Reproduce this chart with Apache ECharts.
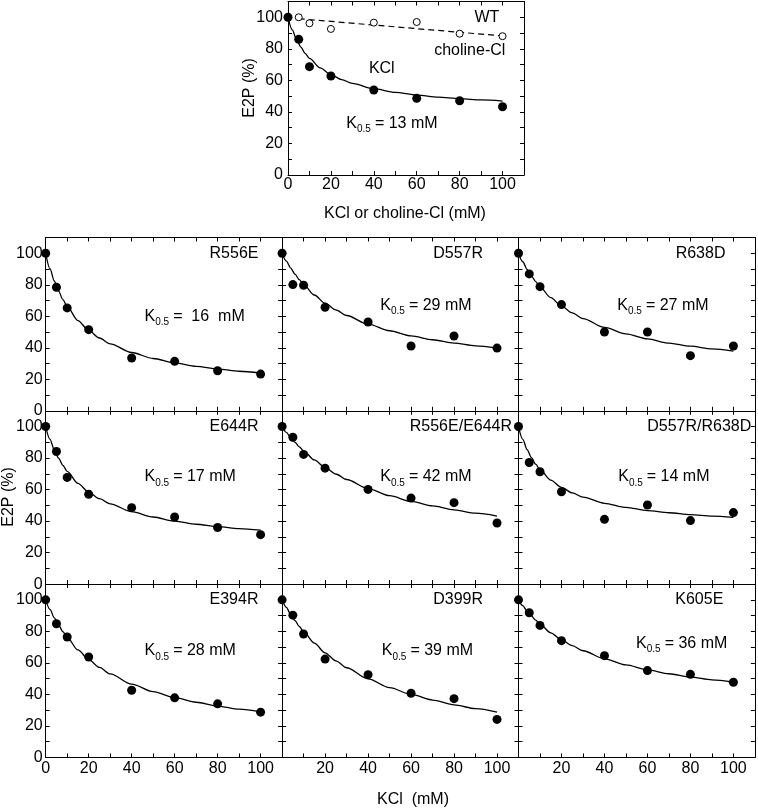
<!DOCTYPE html>
<html>
<head>
<meta charset="utf-8">
<script src="https://cdn.jsdelivr.net/npm/echarts@6/dist/echarts.min.js"></script>
<style>
html,body{margin:0;padding:0;background:#fff;}
#chart{width:758px;height:812px;}
</style>
</head>
<body>
<div id="chart"></div>
<script>
// ---------- data ----------
const concX = [0, 5, 10, 20, 40, 60, 80, 100];
const wtKCl = [100, 86.0, 68.7, 62.8, 53.9, 48.6, 47.1, 43.3];
const wtCholineX = [5, 10, 20, 40, 60, 80, 100];
const wtCholine = [100, 96.2, 92.6, 96.6, 97.0, 89.6, 88.0];
const wtCholineFitX = [5, 100];
const wtCholineFit = [99.1, 88.2];

const fitX = [0, 2, 4, 6, 8, 10, 15, 20, 25, 30, 40, 50, 60, 70, 80, 90, 100];
const fitWT = [100, 92.0, 85.9, 81.1, 77.1, 73.9, 67.9, 63.6, 60.5, 58.1, 54.7, 52.4, 50.7, 49.4, 48.4, 47.6, 46.9];

const panelNames = ['R556E', 'D557R', 'R638D', 'E644R', 'R556E/E644R', 'D557R/R638D', 'E394R', 'D399R', 'K605E'];
const panelK = ['16', '29', '27', '17', '42', '14', '28', '39', '36'];

const valR556E = [100, 78.4, 65.3, 51.5, 33.5, 31.4, 25.4, 23.3];
const valD557R = [100, 80.1, 79.7, 65.7, 56.4, 41.1, 47.5, 39.8];
const valR638D = [100, 86.9, 78.8, 67.4, 50.0, 50.0, 35.0, 41.1];
const valE644R = [100, 84.2, 67.7, 57.0, 48.5, 42.6, 35.9, 31.4];
const valR556E_E644R = [100, 93.2, 82.3, 73.6, 60.1, 54.6, 51.7, 38.8];
const valD557R_R638D = [100, 77.2, 71.3, 58.6, 41.1, 50.2, 40.3, 45.4];
const valE394R = [100, 84.8, 76.4, 63.7, 42.6, 37.8, 34.0, 28.7];
const valD399R = [100, 90.3, 78.3, 62.4, 52.5, 40.7, 37.3, 24.1];
const valK605E = [100, 91.8, 83.8, 74.1, 64.6, 55.1, 52.7, 47.7];

const fitR556E = [100, 90.2, 82.4, 75.9, 70.6, 66.1, 57.3, 51.0, 46.2, 42.5, 37.0, 33.2, 30.4, 28.2, 26.5, 25.1, 24.0];
const fitD557R = [100, 95.0, 90.6, 86.7, 83.2, 80.1, 73.5, 68.3, 64.0, 60.5, 55.0, 50.8, 47.6, 45.1, 43.0, 41.2, 39.8];
const fitR638D = [100, 94.6, 89.8, 85.6, 82.0, 78.7, 71.8, 66.4, 62.1, 58.5, 52.9, 48.8, 45.6, 43.0, 41.0, 39.3, 37.9];
const fitE644R = [100, 91.9, 85.3, 79.9, 75.4, 71.5, 63.9, 58.4, 54.2, 50.9, 46.0, 42.6, 40.0, 38.0, 36.5, 35.2, 34.2];
const fitR556E_E644R = [100, 96.3, 93.0, 89.9, 87.1, 84.5, 78.8, 74.0, 69.9, 66.4, 60.6, 56.1, 52.5, 49.6, 47.1, 45.0, 43.2];
const fitD557R_R638D = [100, 91.8, 85.4, 80.3, 76.1, 72.6, 66.0, 61.4, 57.9, 55.2, 51.3, 48.7, 46.7, 45.3, 44.1, 43.2, 42.4];
const fitE394R = [100, 93.9, 88.6, 84.0, 79.8, 76.1, 68.2, 62.1, 57.1, 53.0, 46.5, 41.7, 37.9, 35.0, 32.6, 30.6, 28.9];
const fitD399R = [100, 95.2, 90.8, 86.8, 83.1, 79.8, 72.5, 66.4, 61.3, 56.9, 49.8, 44.3, 40.0, 36.4, 33.4, 30.9, 28.7];
const fitK605E = [100, 96.3, 92.9, 89.8, 87.1, 84.6, 79.1, 74.6, 70.9, 67.7, 62.6, 58.7, 55.6, 53.1, 51.0, 49.2, 47.7];

const panelValues = [valR556E, valD557R, valR638D, valE644R, valR556E_E644R, valD557R_R638D, valE394R, valD399R, valK605E];
const panelFits = [fitR556E, fitD557R, fitR638D, fitE644R, fitR556E_E644R, fitD557R_R638D, fitE394R, fitD399R, fitK605E];

const tickLabels = [0, 20, 40, 60, 80, 100];

// ---------- layout ----------
const FONT = '"Liberation Sans", Arial, Helvetica, sans-serif';
const FS = 16;
const grids = [{ left: 288, top: 1.5, width: 236, height: 173.5 }];
for (let r = 0; r < 3; r++) {
  for (let c = 0; c < 3; c++) {
    grids.push({ left: 45.7 + c * 236.4, top: 237.5 + r * 173.3, width: 236.4, height: 173.3 });
  }
}

const pairs = (xs, ys) => xs.map((x, i) => [x, ys[i]]);

const xAxes = [], yAxes = [], series = [];
function labelFmt(showZero) {
  return v => (tickLabels.indexOf(v) >= 0 && (showZero || v !== 0)) ? String(v) : '';
}
grids.forEach((g, i) => {
  const panel = i - 1;
  const col = panel >= 0 ? panel % 3 : 0;
  const row = panel >= 0 ? Math.floor(panel / 3) : -1;
  const showX = i === 0 || row === 2;
  const showY = i === 0 || col === 0;
  const showXZero = i === 0 || col === 0;
  const common = {
    gridIndex: i, type: 'value', min: 0, max: 110, interval: 10,
    splitLine: { show: false },
    axisLine: { show: true, onZero: false, lineStyle: { color: '#000', width: 1 } },
    axisTick: { show: true, inside: true, length: 4, lineStyle: { color: '#000', width: 1 } },
  };
  xAxes.push(Object.assign({}, common, {
    position: 'bottom',
    axisLabel: { show: showX, formatter: labelFmt(showXZero), color: '#000', fontSize: FS, fontFamily: FONT, margin: i === 0 ? 2 : 3 }
  }));
  xAxes.push(Object.assign({}, common, { position: 'top', axisLabel: { show: false } }));
  yAxes.push(Object.assign({}, common, {
    position: 'left',
    axisLabel: { show: showY, formatter: labelFmt(true), color: '#000', fontSize: FS, fontFamily: FONT, margin: i === 0 ? 5 : 3 }
  }));
  yAxes.push(Object.assign({}, common, { position: 'right', axisLabel: { show: false } }));
});

const lineCommon = { type: 'line', showSymbol: false, symbol: 'none', smooth: 0.3, smoothMonotone: 'x', silent: true, animation: false, z: 3 };
const dotCommon = { type: 'scatter', symbol: 'circle', symbolSize: 9, itemStyle: { color: '#000', opacity: 1 }, animation: false, z: 5 };

// top WT chart
series.push(Object.assign({}, lineCommon, { xAxisIndex: 0, yAxisIndex: 0, data: pairs(fitX, fitWT), lineStyle: { color: '#000', width: 1.3 } }));
series.push(Object.assign({}, lineCommon, { smooth: false, xAxisIndex: 0, yAxisIndex: 0, data: pairs(wtCholineFitX, wtCholineFit), lineStyle: { color: '#000', width: 1.2, type: [6, 4] } }));
series.push({ type: 'scatter', xAxisIndex: 0, yAxisIndex: 0, symbol: 'circle', symbolSize: 7, itemStyle: { color: '#fff', borderColor: '#000', borderWidth: 1, opacity: 1 }, data: pairs(wtCholineX, wtCholine), animation: false, z: 6 });
series.push(Object.assign({}, dotCommon, { xAxisIndex: 0, yAxisIndex: 0, data: pairs(concX, wtKCl) }));

panelValues.forEach((vals, p) => {
  const gi = p + 1;
  series.push(Object.assign({}, lineCommon, { xAxisIndex: gi * 2, yAxisIndex: gi * 2, data: pairs(fitX, panelFits[p]), lineStyle: { color: '#000', width: 1.3 } }));
  series.push(Object.assign({}, dotCommon, { xAxisIndex: gi * 2, yAxisIndex: gi * 2, data: pairs(concX, vals) }));
});

const chart = echarts.init(document.getElementById('chart'), null, { renderer: 'canvas' });
chart.setOption({
  backgroundColor: '#fff',
  animation: false,
  grid: grids.map(g => Object.assign({ containLabel: false, show: false }, g)),
  xAxis: xAxes,
  yAxis: yAxes,
  series: series
});

// ---------- text annotations ----------
const cv = document.createElement('canvas').getContext('2d');
function measure(t, size) { cv.font = size + 'px ' + FONT; return cv.measureText(t).width; }
function txt(t, x, y, align, opts) {
  return Object.assign({
    type: 'text', x: x, y: y, z: 20,
    style: { text: t, fill: '#000', fontSize: FS, fontFamily: FONT, align: align, verticalAlign: 'middle', textAlign: align, textVerticalAlign: 'middle' }
  }, opts || {});
}
function kLabel(k, px, py, wide) {
  const wK = measure('K', FS);
  const wS = measure('0.5', 10);
  const rest = wide ? '=  ' + k + '  mM' : '= ' + k + ' mM';
  return {
    type: 'group', x: px, y: py, z: 20,
    children: [
      txt('K', 0, 0, 'left'),
      { type: 'text', x: wK, y: 6, style: { text: '0.5', fill: '#000', fontSize: 10, fontFamily: FONT, align: 'left', verticalAlign: 'middle', textAlign: 'left', textVerticalAlign: 'middle' } },
      txt(rest, wK + wS + 4, 0, 'left')
    ]
  };
}
const toPx = (gi, x, y) => chart.convertToPixel({ gridIndex: gi }, [x, y]);

const nameAnchorX = [99, 93.5, 96.3, 99, 107, 108.3, 99, 93.5, 95.3];
const kAnchor = [[46, 60], [45.7, 66.7], [46, 66.7], [46, 68], [45.7, 68], [46.4, 68], [46, 67.5], [46.4, 67.5], [54.7, 72.5]];

const graphics = [];
panelNames.forEach((n, p) => {
  const a = toPx(p + 1, nameAnchorX[p], 100);
  graphics.push(txt(n, a[0], a[1], 'right'));
  const b = toPx(p + 1, kAnchor[p][0], kAnchor[p][1]);
  graphics.push(kLabel(panelK[p], b[0], b[1], p === 0));
});
// top chart labels
let q = toPx(0, 98.5, 100); graphics.push(txt('WT', q[0], q[1], 'right'));
q = toPx(0, 101.3, 79); graphics.push(txt('choline-Cl', q[0], q[1], 'right'));
q = toPx(0, 37.7, 67.5); graphics.push(txt('KCl', q[0], q[1], 'left'));
q = toPx(0, 27.2, 32.7); graphics.push(kLabel('13', q[0], q[1], false));
// axis names
graphics.push(txt('E2P (%)', 250, 88, 'center', { rotation: Math.PI / 2 }));
graphics.push(txt('E2P (%)', 9, 497, 'center', { rotation: Math.PI / 2 }));
graphics.push(txt('KCl or choline-Cl (mM)', 405, 214, 'center'));
graphics.push(txt('KCl  (mM)', 413, 800, 'center'));

chart.setOption({ graphic: graphics });
</script>
</body>
</html>
